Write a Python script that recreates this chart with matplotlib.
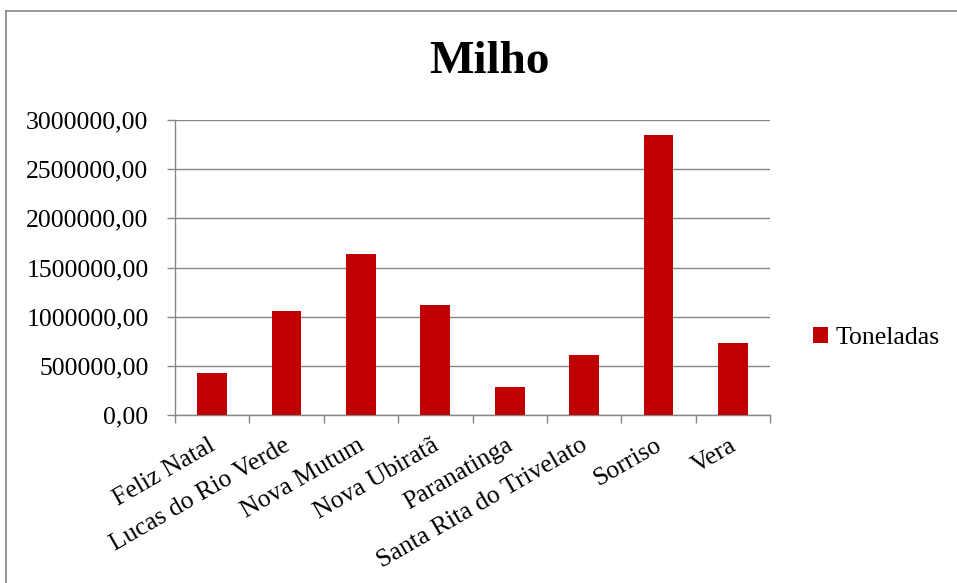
import matplotlib
matplotlib.use('Agg')
import matplotlib.pyplot as plt
import matplotlib.transforms as mtransforms
from matplotlib.lines import Line2D
from matplotlib.ticker import FuncFormatter
import numpy as np

# dados
municipios = ['Feliz Natal', 'Lucas do Rio Verde', 'Nova Mutum', 'Nova Ubiratã',
              'Paranatinga', 'Santa Rita do Trivelato', 'Sorriso', 'Vera']
toneladas = [424000, 1058000, 1637000, 1115000, 285000, 610000, 2844000, 729000]
serie = 'Toneladas'
titulo = 'Milho'

plt.rcParams['font.family'] = ['Liberation Serif', 'DejaVu Serif']

W, H = 957, 583
fig = plt.figure(figsize=(W / 100, H / 100), dpi=100)
ax = fig.add_axes([175 / W, 1 - 415 / H, 595 / W, 295 / H])

cinza = '#868686'
x = np.arange(len(municipios))
ax.bar(x, toneladas, width=0.4, color='#C00000', label=serie, zorder=3)

ax.set_xlim(-0.5, len(municipios) - 0.5)
ax.set_ylim(0, 3000000)
ax.set_yticks(np.arange(0, 3000001, 500000))
ax.yaxis.set_major_formatter(FuncFormatter(lambda v, p: f'{v:.2f}'.replace('.', ',')))
ax.grid(axis='y', color=cinza, linewidth=1.0, zorder=0)

# ticks nas divisões das categorias, rótulos no centro
ax.set_xticks(np.arange(-0.5, len(municipios)), labels=[])
ax.set_xticks(x, labels=municipios, minor=True)
ax.tick_params(axis='x', which='major', direction='out', length=6, width=1, color=cinza)
ax.tick_params(axis='x', which='minor', length=0, pad=14, labelsize=18.5)
ax.tick_params(axis='y', direction='out', length=6, width=1, color=cinza, pad=13, labelsize=18.5)

offset = mtransforms.ScaledTranslation(-4 / 100, 0, fig.dpi_scale_trans)
for lbl in ax.get_xticklabels(minor=True):
    lbl.set_rotation(30)
    lbl.set_ha('right')
    lbl.set_va('top')
    lbl.set_rotation_mode('anchor')
    lbl.set_transform(lbl.get_transform() + offset)

for s in ['top', 'right']:
    ax.spines[s].set_visible(False)
for s in ['left', 'bottom']:
    ax.spines[s].set_color(cinza)
    ax.spines[s].set_linewidth(1.0)

fig.text(489 / W, 1 - 62 / H, titulo, ha='center', va='center', fontsize=34, fontweight='bold')

leg = ax.legend(loc='center left', bbox_to_anchor=(800 / W, 1 - 338 / H),
                bbox_transform=fig.transFigure, frameon=False, fontsize=18.5,
                handlelength=0.6, handleheight=0.6, handletextpad=0.3, borderpad=0)

# borda do gráfico (só esquerda e topo visíveis no recorte)
fig.add_artist(Line2D([5.5 / W, 5.5 / W], [0, 1 - 11 / H], color=cinza, linewidth=1.2))
fig.add_artist(Line2D([5.5 / W, 1], [1 - 11 / H, 1 - 11 / H], color=cinza, linewidth=1.2))

fig.savefig('out.png', dpi=100)
